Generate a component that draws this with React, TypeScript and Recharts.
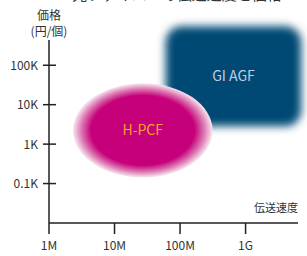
import { ScatterChart, XAxis, YAxis, ReferenceArea, Scatter } from 'recharts';

// values are log10 of speed (bps) and price (yen)
const xTicks = [6, 7, 8, 9];
const xTickLabels = ['1M', '10M', '100M', '1G'];
const yTicks = [2, 3, 4, 5];
const yTickLabels = ['0.1K', '1K', '10K', '100K'];

const agfRegion = { name: 'GI AGF', x1: 7.78, x2: 9.85, y1: 3.45, y2: 5.99 };
const pcfRegion = { name: 'H-PCF', x1: 6.365, x2: 8.496, y1: 2.153, y2: 4.542 };

const FONT = '"Noto Sans CJK JP", "Noto Sans", sans-serif';
const TEXT = '#333';

const YTick = (props: any) => {
  const { x, y, payload } = props;
  const label = yTickLabels[yTicks.indexOf(payload.value)];
  return (
    <g>
      <line x1={x - 6} x2={x + 7} y1={y} y2={y} stroke="#222" strokeWidth={1.5} />
      <text x={x - 11} y={y} dy={4.5} textAnchor="end" fontSize={12} fill={TEXT} fontFamily={FONT}>
        {label}
      </text>
    </g>
  );
};

const XTick = (props: any) => {
  const { x, y, payload } = props;
  const label = xTickLabels[xTicks.indexOf(payload.value)];
  return (
    <g>
      <line x1={x} x2={x} y1={y} y2={y + 11} stroke="#222" strokeWidth={1.5} />
      <text x={x} y={y + 27} textAnchor="middle" fontSize={12} fill={TEXT} fontFamily={FONT}>
        {label}
      </text>
    </g>
  );
};

const AgfShape = (props: any) => {
  const { x, y, width, height } = props;
  return (
    <g>
      <defs>
        <filter id="agfBlur" x="-20%" y="-20%" width="140%" height="140%">
          <feGaussianBlur stdDeviation={4.5} />
        </filter>
      </defs>
      <rect x={x} y={y} width={width} height={height} rx={16} fill="#004a75" filter="url(#agfBlur)" />
      <text
        x={x + width / 2}
        y={y + height / 2}
        dy={5}
        textAnchor="middle"
        fontSize={14}
        fill="#c3cfdc"
        fontFamily={FONT}
      >
        {agfRegion.name}
      </text>
    </g>
  );
};

const PcfShape = (props: any) => {
  const { x, y, width, height } = props;
  return (
    <g>
      <defs>
        <radialGradient id="pcfGrad">
          <stop offset="0" stopColor="#c6007a" />
          <stop offset="0.74" stopColor="#c6007a" />
          <stop offset="0.88" stopColor="#dc78b2" />
          <stop offset="1" stopColor="#f9e8f1" />
        </radialGradient>
      </defs>
      <ellipse cx={x + width / 2} cy={y + height / 2} rx={width / 2} ry={height / 2} fill="url(#pcfGrad)" />
      <text
        x={x + width / 2}
        y={y + height / 2}
        dy={5}
        textAnchor="middle"
        fontSize={14}
        fill="#f2a52a"
        fontFamily={FONT}
      >
        {pcfRegion.name}
      </text>
    </g>
  );
};

export default function App() {
  return (
    <div style={{ position: 'absolute', left: 0, top: 0, width: 307, height: 256, background: '#fff' }}>
      <ScatterChart width={307} height={256} margin={{ top: 40, right: 9, bottom: 0, left: 0 }}>
        <XAxis
          type="number"
          dataKey="x"
          domain={[6, 9.8]}
          ticks={xTicks}
          tick={XTick}
          tickLine={false}
          tickSize={0}
          tickMargin={0}
          height={33}
          axisLine={{ stroke: '#222', strokeWidth: 1.5 }}
          allowDataOverflow
        />
        <YAxis
          type="number"
          dataKey="y"
          domain={[1, 5.64]}
          ticks={yTicks}
          tick={YTick}
          tickLine={false}
          tickSize={0}
          tickMargin={0}
          width={49}
          axisLine={{ stroke: '#222', strokeWidth: 1.5 }}
          allowDataOverflow
        />
        <Scatter data={[]} isAnimationActive={false} />
        <ReferenceArea
          x1={agfRegion.x1}
          x2={agfRegion.x2}
          y1={agfRegion.y1}
          y2={agfRegion.y2}
          ifOverflow="visible"
          shape={AgfShape}
        />
        <ReferenceArea
          x1={pcfRegion.x1}
          x2={pcfRegion.x2}
          y1={pcfRegion.y1}
          y2={pcfRegion.y2}
          ifOverflow="visible"
          shape={PcfShape}
        />
        <text x={177} y={0} textAnchor="middle" fontSize={15} fill={TEXT} fontFamily={FONT}>
          光ファイバーの伝送速度と価格
        </text>
        <text x={49} y={20} textAnchor="middle" fontSize={12} fill={TEXT} fontFamily={FONT}>
          価格
        </text>
        <text x={49} y={36} textAnchor="middle" fontSize={12} fill={TEXT} fontFamily={FONT}>
          (円/個)
        </text>
        <text x={298} y={212} textAnchor="end" fontSize={11} fill={TEXT} fontFamily={FONT}>
          伝送速度
        </text>
      </ScatterChart>
    </div>
  );
}
